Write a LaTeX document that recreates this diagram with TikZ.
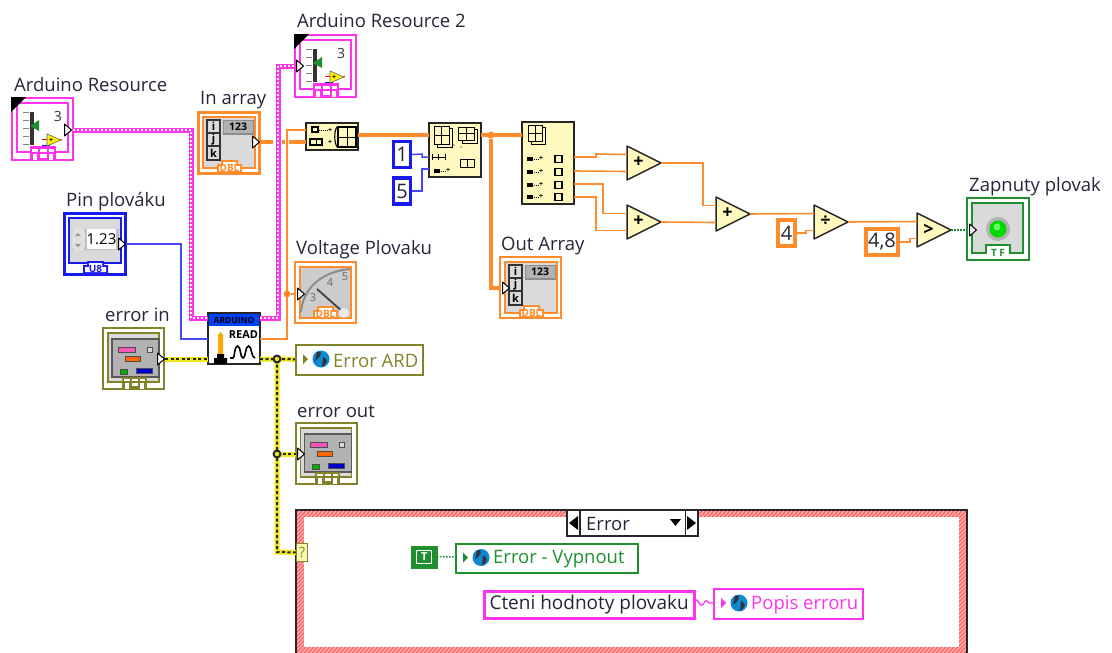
\documentclass[tikz,border=0pt]{standalone}
\usepackage{fontspec}
\setmainfont{Open Sans}
\definecolor{mag}{HTML}{FF33EE}
\definecolor{org}{HTML}{FF8C2A}
\definecolor{blu}{HTML}{1A1AF0}
\definecolor{oli}{HTML}{82822A}
\definecolor{yel}{HTML}{EDE81E}
\definecolor{grn}{HTML}{1F8F2F}
\definecolor{fnbg}{HTML}{FFF9C0}
\definecolor{panel}{HTML}{DADADA}
\definecolor{ink}{HTML}{26263A}
\tikzset{
  lab/.style={anchor=west,inner sep=0pt,text=ink,font=\fontsize{18.5}{20}\selectfont},
  box/.style={inner sep=0pt,outer sep=0pt,minimum width=#1},
  wthin/.style={draw=org,line width=1.6pt},
  wthick/.style={draw=org,line width=3.2pt},
  wblue/.style={draw=blu!80!white,line width=1.5pt},
  wpink/.style={preaction={draw=mag,line width=5pt,solid},draw=white,line width=1.5pt,dash pattern=on 2pt off 2pt},
  werr/.style={preaction={draw=yel,line width=5pt,solid},draw=black!85,line width=2pt,dash pattern=on 3pt off 2.5pt},
  wbool/.style={draw=grn,line width=1.4pt,dash pattern=on 1.5pt off 1.5pt},
  fnbox/.style={draw=black!85,line width=1.5pt,fill=fnbg},
  junc/.style={circle,inner sep=0pt,minimum size=7pt,fill=#1},
  tinytxt/.style={inner sep=0pt,font=\fontsize{10}{10}\bfseries\selectfont},
  constb/.style={rectangle,fill=white,inner sep=0pt,line width=3.5pt,text=ink,font=\fontsize{20}{22}\selectfont},
  lvar/.style={rectangle,fill=white,inner sep=0pt,line width=1.6pt},
}
\newcommand{\termR}[2]{\filldraw[fill=white,draw=black,line width=1pt,line join=round] (#1-1.5,#2-6) -- (#1+5.5,#2) -- (#1-1.5,#2+6) -- cycle;}
\newcommand{\tag}[6]{\fill[#5] (#1,#4) -- (#1,#2+4) -- (#1+4,#2+4) -- (#1+4,#2) -- (#3-4,#2) -- (#3-4,#2+4) -- (#3,#2+4) -- (#3,#4) -- cycle;
  \fill[white] (#1+2,#4-2) -- (#1+2,#2+6) -- (#1+6,#2+6) -- (#1+6,#2+2) -- (#3-6,#2+2) -- (#3-6,#2+6) -- (#3-2,#2+6) -- (#3-2,#4-2) -- cycle;
  \node[tinytxt,text=#5] at ({(#1+#3)/2},{(#2+#4)/2+1}) {#6};}
% resource icon
\newcommand{\resicon}[3]{\begin{scope}[shift={(#2,#3)}]
  \node[box=61pt,minimum height=62pt,fill=white,draw=mag,line width=2pt,anchor=north west] (#1) at (0,0) {};
  \draw[mag,line width=1.2pt] (5,5) rectangle (56,54);
  \fill[black] (-1,-1) -- (14,-1) -- (-1,14) -- cycle;
  \fill[black!80] (18,14) rectangle (22,47);
  \foreach \t in {14,22,30,38,46}{\draw[gray,line width=1pt] (11,\t) -- (17,\t);}
  \fill[grn] (27,22) -- (27,33) -- (18,28) -- cycle;
  \node[inner sep=0pt,font=\fontsize{14}{14}\selectfont,text=black!80] at (46,18) {3};
  \draw[red,line width=.8pt] (30,41) -- (50,41);
  \draw[blu,line width=.8pt] (30,47) -- (38,47);
  \filldraw[fill=yellow,draw=black!60,line width=.6pt] (35,36) -- (49,42) -- (35,48) -- cycle;
  \node[inner sep=0pt,font=\fontsize{7}{7}\bfseries\selectfont] at (39,42) {+};
  \fill[mag] (18,48) rectangle (44,62);
  \fill[white] (20,51) rectangle (26,54); \fill[white] (28,51) rectangle (35,54); \fill[white] (37,51) rectangle (42,54);
  \fill[white] (21,56) rectangle (25,62); \fill[white] (37,56) rectangle (41,62); \fill[white] (28,56) rectangle (35,60);
\end{scope}}
% array indicator
\newcommand{\arrayicon}[4]{\begin{scope}[shift={(#2,#3)}]
  \node[box=61pt,minimum height=61pt,fill=white,draw=org,line width=#4,anchor=north west] (#1) at (0,0) {};
  \filldraw[fill=panel,draw=org,line width=1.4pt] (5,5) rectangle (57,56);
  \filldraw[fill=panel,draw=black!80,line width=1.2pt] (9,8) rectangle (22,21);
  \filldraw[fill=panel,draw=black!80,line width=1.2pt] (9,21) rectangle (22,34);
  \filldraw[fill=panel,draw=black!80,line width=1.2pt] (9,34) rectangle (22,48);
  \node[inner sep=0pt,font=\fontsize{11}{11}\bfseries\selectfont] at (15.5,14.5) {i};
  \node[inner sep=0pt,font=\fontsize{11}{11}\bfseries\selectfont] at (15.5,27.5) {j};
  \node[inner sep=0pt,font=\fontsize{11}{11}\bfseries\selectfont] at (15.5,41) {k};
  \fill[black!45] (25,8) rectangle (56,23); \fill[black!30] (26,9) rectangle (55,21);
  \node[inner sep=0pt,font=\fontsize{10.5}{10.5}\bfseries\selectfont] at (40,15) {123};
  \tag{19}{48}{44}{61}{org}{DBL}
\end{scope}}
% error cluster
\newcommand{\clustericon}[3]{\begin{scope}[shift={(#2,#3)}]
  \node[box=61pt,minimum height=61pt,fill=white,draw=oli,line width=2pt,anchor=north west] (#1) at (0,0) {};
  \filldraw[fill=panel,draw=oli,line width=1.2pt] (5,5) rectangle (56,54);
  \filldraw[fill=black!30,draw=black!65,line width=1.4pt] (9,11) rectangle (56,49);
  \filldraw[fill=magenta!65,draw=black!70,line width=.8pt] (15,19) rectangle (32,24);
  \filldraw[fill=panel,draw=black!70,line width=.8pt] (44,19) rectangle (49,24);
  \filldraw[fill=orange!80!red,draw=black!70,line width=.8pt] (22,28) rectangle (37,33);
  \filldraw[fill=green!70!black,draw=black!70,line width=.8pt] (17,41) rectangle (24,46);
  \filldraw[fill=blue!80!black,draw=black!70,line width=.8pt] (33,40) rectangle (49,45);
  \fill[oli] (19,49) rectangle (44,61);
  \fill[white] (21,51) rectangle (27,53); \fill[white] (29,51) rectangle (35,53); \fill[white] (37,51) rectangle (42,53);
  \fill[white] (22,55) rectangle (26,61); \fill[white] (37,55) rectangle (41,61); \fill[white] (29,55) rectangle (35,58);
\end{scope}}
% primitive triangle
\newcommand{\prim}[4]{\begin{scope}[shift={(#2,#3)}]
  \filldraw[fill=fnbg,draw=black!85,line width=1.5pt,line join=round] (0,0) -- (34,17) -- (0,34) -- cycle;
  \node[inner sep=0pt,font=\fontsize{18}{18}\bfseries\selectfont] (#1) at (11.5,16.5) {#4};
  \coordinate (#1-a) at (0,8.5);
  \coordinate (#1-b) at (0,25.5);
  \coordinate (#1-o) at (34,17);
\end{scope}}
% local variable
\newcommand{\localvar}[7]{\node[lvar,draw=#6,minimum width=#3pt-#1pt,minimum height=#4pt-#2pt,anchor=north west] (#5) at (#1,#2) {};
  \begin{scope}[shift={(#1,#2)}]
  \fill[#6] (8,{(#4-#2)/2-5}) -- (13,{(#4-#2)/2}) -- (8,{(#4-#2)/2+5}) -- cycle;
  \fill[cyan!70!blue] (26,{(#4-#2)/2}) circle (8.5pt);
  \fill[black!80] (22,{(#4-#2)/2-7}) .. controls (30,{(#4-#2)/2-9}) and (24,{(#4-#2)/2}) .. (20,{(#4-#2)/2+2}) -- cycle;
  \fill[black!80] (28,{(#4-#2)/2-2}) .. controls (34,{(#4-#2)/2}) and (32,{(#4-#2)/2+5}) .. (27,{(#4-#2)/2+8}) -- cycle;
  \node[inner sep=0pt,anchor=west,text=#6,font=\fontsize{18.5}{20}\selectfont] at (38,{(#4-#2)/2+1.5}) {#7};
  \end{scope}}
\begin{document}
\begin{tikzpicture}[x=1pt,y=-1pt,line cap=butt]
\clip (0,0) rectangle (1112,653);
\fill[white] (0,0) rectangle (1112,653);

% labels
\node[lab] (tArd) at (14,85) {Arduino Resource};
\node[lab] (tArd2) at (297,21) {Arduino Resource 2};
\node[lab] (tIn) at (200,100) {In array};
\node[lab] (tPin) at (66,202) {Pin plováku};
\node[lab] (tErrIn) at (105,315) {error in};
\node[lab] (tVolt) at (296,250) {Voltage Plovaku};
\node[lab] (tOut) at (501,246) {Out Array};
\node[lab] (tErrOut) at (297,411) {error out};
\node[lab] (tZap) at (969,187) {Zapnuty plovak};

% pins
\coordinate (ardOut) at (73,130);
\coordinate (ard2In) at (296,66);
\coordinate (inOut) at (260,142);
\coordinate (readA) at (208,318);
\coordinate (readB) at (260,318);
\coordinate (readPin) at (208,339);
\coordinate (readV) at (260,339);
\coordinate (readEI) at (208,359);
\coordinate (readEO) at (260,359);
\coordinate (pinOut) at (126,244);
\coordinate (errInOut) at (165,359);
\coordinate (buildA) at (306,130);
\coordinate (buildB) at (306,142);
\coordinate (buildO) at (358,135);
\coordinate (subIn) at (429,135);
\coordinate (subA) at (429,157);
\coordinate (subB) at (429,169);
\coordinate (subO) at (481,135);
\coordinate (idxIn) at (522,135);
\coordinate (idxA) at (574,157);
\coordinate (idxB) at (574,171);
\coordinate (idxC) at (574,184);
\coordinate (idxD) at (574,197);
\coordinate (voltIn) at (296,294);
\coordinate (outIn) at (501,288);
\coordinate (errOutIn) at (296,454);
\coordinate (ledIn) at (968,230);

% icons
\resicon{ardRes}{12}{98}
\resicon{ardRes2}{295}{35}
\arrayicon{inArr}{198}{112}{3pt}
\arrayicon{outArr}{500}{257}{1.6pt}

% Pin control
\begin{scope}[shift={(64,213)}]
  \node[box=61pt,minimum height=61pt,fill=white,draw=blu,line width=3pt,anchor=north west] (pinCtl) at (0,0) {};
  \filldraw[fill=panel,draw=blu,line width=1.4pt] (5,5) rectangle (57,50);
  \fill[black!25] (8,16) rectangle (55,37);
  \fill[black!12,rounded corners=4pt] (8,15) rectangle (21,38);
  \fill[black!40] (14,20) -- (11,23) -- (17,23) -- cycle; \fill[black!40] (14,34) -- (11,31) -- (17,31) -- cycle;
  \fill[white] (23,16) rectangle (52,36);
  \node[inner sep=0pt,font=\fontsize{15}{15}\selectfont] at (37.5,26.5) {1.23};
  \tag{19}{48}{44}{61}{blu}{U8}
\end{scope}

% Voltage
\begin{scope}[shift={(295,262)}]
  \node[box=61pt,minimum height=61pt,fill=white,draw=org,line width=1.6pt,anchor=north west] (voltInd) at (0,0) {};
  \filldraw[fill=black!20,draw=org,line width=1.6pt] (5,5) rectangle (56,56);
  \draw[black!45,line width=2pt] (6,50) .. controls (8,28) and (24,10) .. (55,7);
  \draw[black!75,line width=1.8pt] (22,27) -- (48,50);
  \fill[black!8] (49,51) circle (5pt);
  \node[inner sep=0pt,font=\fontsize{11}{11}\selectfont,text=black!60] at (18,36) {3};
  \node[inner sep=0pt,font=\fontsize{11}{11}\selectfont,text=black!60] at (35,21) {4};
  \node[inner sep=0pt,font=\fontsize{11}{11}\selectfont,text=black!60] at (50,15) {5};
  \tag{18}{44}{43}{57}{org}{DBL}
\end{scope}

\clustericon{errIn}{103}{328}
\clustericon{errOut}{295.5}{423}

% Read VI
\begin{scope}[shift={(208,313)}]
  \node[box=52pt,minimum height=51pt,fill=white,draw=black!85,line width=1.5pt,anchor=north west] (readVI) at (0,0) {};
  \fill[blue!75!cyan] (0.7,0.7) rectangle (51.3,13);
  \node[inner sep=0pt,font=\fontsize{8.5}{9}\bfseries\selectfont,text=black] at (26,7) {ARDUINO};
  \node[inner sep=0pt,font=\fontsize{11}{11}\bfseries\selectfont] at (35.5,22) {READ};
  \fill[orange!70!yellow] (10,22) -- (12.5,19) -- (15,22) -- (15,41) -- (10,41) -- cycle;
  \fill[black] (9,41) -- (16,41) -- (16,45) -- (19,45) -- (19,51) -- (6,51) -- (6,45) -- (9,45) -- cycle;
  \draw[black,line width=1.6pt] (22,45) -- (25,45) .. controls (27,45) and (26,33) .. (29.5,33) .. controls (33,33) and (32,45) .. (35,45) .. controls (38,45) and (37,33) .. (40.5,33) .. controls (44,33) and (43,45) .. (47,45);
\end{scope}

% Build array
\node[box=52pt,minimum height=27pt,fnbox,anchor=north west] (buildArr) at (306,123) {};
\begin{scope}[shift={(306,123)}]
  \draw[black,line width=1.1pt] (6,4) rectangle (12,9);
  \draw[black,line width=.9pt,dash pattern=on 1pt off 1pt] (13,7) -- (22,7);
  \node[inner sep=0pt,font=\fontsize{7}{7}\bfseries\selectfont] at (24,7) {+};
  \draw[black,line width=1.1pt] (4,16) rectangle (16,22);
  \draw[black,line width=.9pt] (10,16) -- (10,22);
  \node[inner sep=0pt,font=\fontsize{7}{7}\bfseries\selectfont] at (24,19) {+};
  \draw[black,line width=1.1pt] (31,4) .. controls (28,8) and (28,19) .. (31,24);
  \draw[black,line width=1.2pt] (32,4) rectangle (50,24);
  \draw[black,line width=1pt] (41,4) -- (41,24) (32,14) -- (50,14);
\end{scope}

% Array subset
\node[box=52pt,minimum height=54pt,fnbox,anchor=north west] (subArr) at (429,123) {};
\begin{scope}[shift={(429,123)}]
  \draw[black,line width=1pt,fill=fnbg] (8,5) rectangle (23,24); \draw[black,line width=1pt,fill=fnbg] (5,3) rectangle (20,21);
  \draw[black,line width=.8pt] (12.5,3) -- (12.5,21) (5,12) -- (20,12);
  \draw[black,line width=1pt,fill=fnbg] (33,6) rectangle (48,20); \draw[black,line width=1pt,fill=fnbg] (29,4) rectangle (45,17);
  \draw[black,line width=.8pt] (37,4) -- (37,17) (29,10.5) -- (45,10.5);
  \draw[black,line width=1pt] (3,34) -- (16,34) (3,31) -- (3,37) (16,31) -- (16,37) (9.5,31) -- (9.5,37);
  \fill[black] (5,46) rectangle (11,50);
  \draw[black,line width=.9pt,dash pattern=on 1pt off 1pt] (12,48) -- (17,48);
  \node[inner sep=0pt,font=\fontsize{7}{7}\bfseries\selectfont] at (19,47) {+};
  \draw[black,line width=1pt] (31,36) rectangle (45,44) (38,36) -- (38,44);
  \fill[black] (25,22) circle (.7pt) (32,24) circle (.7pt);
\end{scope}

% Index array
\node[box=52pt,minimum height=82pt,fnbox,anchor=north west] (idxArr) at (522,122) {};
\begin{scope}[shift={(522,122)}]
  \draw[black,line width=1pt,fill=fnbg] (9,5) rectangle (23,22); \draw[black,line width=1pt,fill=fnbg] (6,3) rectangle (20,19);
  \draw[black,line width=.8pt] (13,3) -- (13,19) (6,11) -- (20,11);
  \foreach \r in {37,50,63,75}{
    \fill[black] (5,\r-2) rectangle (11,\r+2);
    \draw[black,line width=.9pt,dash pattern=on 1pt off 1pt] (12,\r) -- (17,\r);
    \node[inner sep=0pt,font=\fontsize{7}{7}\bfseries\selectfont] at (19,\r-1) {+};
    \draw[black,line width=1.1pt] (33,\r-3.5) rectangle (40,\r+3.5);
  }
\end{scope}

% constants
\node[constb,draw=blu,minimum width=17pt,minimum height=26pt] (cOne) at (402,154.5) {1};
\node[constb,draw=blu,minimum width=17pt,minimum height=26pt] (cFive) at (402,191) {5};
\node[constb,draw=org,minimum width=17pt,minimum height=26pt] (cFour) at (786.5,233) {4};
\node[constb,draw=org,minimum width=32pt,minimum height=26pt] (cThr) at (882,242) {4,8};

% primitives
\prim{add1}{627}{146}{+}
\prim{add2}{627}{205}{+}
\prim{add3}{716}{197}{+}
\prim{divd}{814}{205}{÷}
\prim{grtr}{917}{213}{>}

% LED
\begin{scope}[shift={(967,198)}]
  \node[box=62pt,minimum height=62pt,fill=white,draw=grn,line width=1.6pt,anchor=north west] (led) at (0,0) {};
  \filldraw[fill=panel,draw=grn,line width=1.6pt] (5,5) -- (56,5) -- (56,55) -- (43,55) -- (43,47) -- (19,47) -- (19,55) -- (5,55) -- cycle;
  \fill[black!30] (31,31) circle (12pt);
  \fill[green!85!black] (31,31) circle (8.5pt);
  \fill[green!60!white] (30,29) circle (3.5pt);
  \node[tinytxt,text=grn] at (31,54.5) {T F};
\end{scope}

% wires
\draw[wpink] (ardOut) -- (191,130) -- (191,318) -- (readA);
\draw[wpink] (readB) -- (278,318) -- (278,66) -- (ard2In);
\draw[wblue] (pinOut) -- (181,244) -- (181,339) -- (readPin);
\draw[wthin] (readV) -- (287,339) -- (287,130) -- (buildA);
\node[junc=org] (jVolt) at (287,294) {};
\draw[wthin] (jVolt) -- (voltIn);
\draw[wthick] (inOut) -- (273,142);
\draw[wthick] (282,142) -- (285,142);
\draw[wthick] (289,142) -- (buildB);
\draw[wthick] (buildO) -- (subIn);
\draw[wthick] (subO) -- (idxIn);
\node[junc=org] (jOut) at (491,135) {};
\draw[wthick] (jOut) -- (491,288) -- (outIn);
\draw[wblue] (cOne) ++(10,0) -- (422,154) -- (422,157) -- (subA);
\draw[wblue] (cFive) ++(10,0) -- (422,191) -- (422,169) -- (subB);
\draw[wthin] (idxA) -- (596,157) -- (596,154) -- (add1-a);
\draw[wthin] (idxB) -- (add1-b);
\draw[wthin] (idxC) -- (603,184) -- (603,213.5) -- (add2-a);
\draw[wthin] (idxD) -- (596,197) -- (596,230.5) -- (add2-b);
\draw[wthin] (add1-o) -- (703,163) -- (703,205.5) -- (add3-a);
\draw[wthin] (add2-o) -- (add3-b);
\draw[wthin] (add3-o) -- (divd-a);
\draw[wthin] (cFour) ++(10,0) -- (806,233) -- (806,230.5) -- (divd-b);
\draw[wthin] (divd-o) -- (grtr-a);
\draw[wthin] (cThr) ++(18,0) -- (910,242) -- (910,238.5) -- (grtr-b);
\draw[wbool] (grtr-o) -- (ledIn);

% terminals
\termR{66}{130}
\termR{298}{66}
\termR{254}{142}
\termR{504}{288}
\termR{120}{244}
\termR{299}{294}
\termR{971}{230}

% local var Error ARD
\localvar{295}{344}{422}{374}{errArd}{oli}{Error ARD}

% case structure
\begin{scope}
  \fill[red!22] (296,510) rectangle (967,660);
  \begin{scope}
    \clip (296,510) rectangle (967,660);
    \foreach \k in {0,4,...,830}{\draw[red!60!white,line width=1.6pt] (296+\k,505) -- (296+\k-160,665);}
  \end{scope}
  \node[fill=white,inner sep=0pt,minimum width=655pt,minimum height=130pt,anchor=north west] (caseIn) at (304,517) {};
  \draw[black!85,line width=1.4pt] (296,653) -- (296,510) -- (967,510) -- (967,653);
\end{scope}
\node[box=131pt,minimum height=26pt,fill=white,draw=black!85,line width=1.3pt,anchor=north west] (sel) at (567,510) {};
\draw[black!85,line width=1.3pt] (580,510) -- (580,536) (685.5,510) -- (685.5,536);
\fill[black] (569,523) -- (578,516) -- (578,530) -- cycle;
\fill[black] (696,523) -- (687,516) -- (687,530) -- cycle;
\fill[black] (670,519) -- (681,519) -- (675.5,526) -- cycle;
\node[lab] (selT) at (586,523.5) {Error};

\node[draw=oli,fill=yel!35!white,line width=1.2pt,minimum width=11pt,minimum height=18pt,inner sep=0pt,anchor=north west,font=\fontsize{14}{14}\selectfont,text=oli] (sterm) at (296,543) {?};

\draw[werr] (errInOut) -- (readEI);
\draw[werr] (readEO) -- (errArd);
\draw[werr] (277,359) -- (277,552) -- (sterm);
\draw[werr] (277,454) -- (errOutIn);
\termR{159}{359}
\termR{299}{454}
\node[circle,fill=black!85,inner sep=0pt,minimum size=9pt] (j1) at (277,359) {};
\node[circle,fill=black!85,inner sep=0pt,minimum size=9pt] (j2) at (277,454) {};
\fill[yel] (j1) circle (2.2pt) (j2) circle (2.2pt);

\node[draw=grn,fill=grn,minimum width=26pt,minimum height=22pt,inner sep=0pt,anchor=north west] (tConst) at (411,545.5) {};
\node[draw=white,line width=1pt,minimum width=15pt,minimum height=13pt,inner sep=0pt,text=white,font=\fontsize{11}{12}\bfseries\selectfont] (tLetter) at (tConst) {T};
\localvar{455}{543}{637}{572}{errV}{grn}{Error - Vypnout}
\draw[wbool] (tConst) ++(13,0) -- (errV);
\node[rectangle,draw=mag,fill=white,line width=3.2pt,minimum width=210pt,minimum height=27pt,inner sep=0pt,anchor=north west,text=ink,font=\fontsize{19}{20}\selectfont] (cteni) at (482.5,589.5) {\raisebox{-1pt}{Cteni hodnoty plovaku}};
\localvar{713}{588}{862}{618}{popis}{mag}{Popis erroru}
\draw[mag,line width=1.3pt] (694,603) .. controls (696,599) and (697,599) .. (699,603) .. controls (701,606) and (702,606) .. (704,603) .. controls (706,600) and (707,600) .. (709,603) -- (popis);
\end{tikzpicture}
\end{document}
